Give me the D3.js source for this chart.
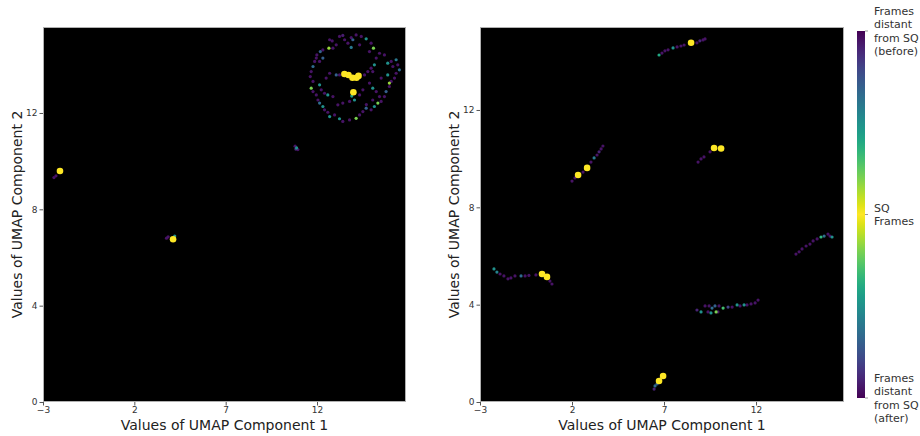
<!DOCTYPE html>
<html>
<head>
<meta charset="utf-8">
<script src="https://cdn.jsdelivr.net/npm/d3@7"></script>
<style>
  body { margin: 0; background: #fff; }
  svg { display: block; font-family: "DejaVu Sans", sans-serif; }
</style>
</head>
<body>
<div id="chart"></div>
<script>
// UMAP projection of frames, coloured by distance from SQ frames
// each point: [UMAP component 1, UMAP component 2, colour value (1 = SQ frame)]

// left panel
const leftPoints = [
  // ring cluster top right
  [12.69, 15.04, 0.05], [12.83, 14.99, 0.05], [13.23, 15.18, 0.05], [13.41, 15.22, 0.08],
  [13.51, 15.04, 0.05], [13.87, 15.13, 0.05], [13.96, 15.04, 0.3], [14.14, 15.24, 0.05],
  [14.42, 15.18, 0.05], [14.69, 15.08, 0.5], [14.96, 14.90, 0.05], [15.09, 14.69, 0.8],
  [14.87, 14.55, 0.05], [14.33, 14.83, 0.05], [13.87, 14.72, 0.4], [13.69, 14.90, 0.05],
  [13.05, 14.83, 0.05], [12.87, 14.69, 0.05], [12.65, 14.69, 0.85], [12.32, 14.62, 0.05],
  [12.18, 14.55, 0.3], [11.99, 14.41, 0.05], [11.96, 14.28, 0.05], [11.87, 14.14, 0.05],
  [11.78, 13.93, 0.35], [11.68, 13.72, 0.05], [11.63, 13.51, 0.05], [11.78, 13.31, 0.05],
  [11.68, 13.03, 0.8], [11.78, 12.89, 0.05], [11.96, 12.75, 0.05], [12.05, 12.54, 0.05],
  [12.14, 12.41, 0.35], [12.32, 12.27, 0.5], [12.41, 12.13, 0.05], [12.59, 12.03, 0.05],
  [12.69, 11.85, 0.5], [12.96, 11.92, 0.05], [13.23, 11.76, 0.5], [13.41, 11.65, 0.05],
  [13.78, 11.71, 0.05], [14.14, 11.78, 0.8], [14.33, 11.92, 0.05], [14.51, 12.06, 0.05],
  [14.69, 12.20, 0.3], [14.96, 12.13, 0.05], [15.14, 12.27, 0.5], [15.33, 12.41, 0.8],
  [15.51, 12.48, 0.05], [15.69, 12.68, 0.05], [15.78, 12.89, 0.3], [15.96, 13.10, 0.05],
  [16.06, 13.31, 0.05], [16.24, 13.45, 0.05], [16.33, 13.65, 0.05], [16.51, 13.79, 0.35],
  [16.42, 14.00, 0.05], [16.33, 14.21, 0.4], [16.06, 14.14, 0.05], [15.87, 14.07, 0.5],
  [15.69, 14.41, 0.05], [15.42, 14.48, 0.05], [15.24, 14.28, 0.05], [15.14, 14.00, 0.5],
  [14.96, 13.86, 0.05], [14.78, 13.72, 0.05], [14.60, 13.58, 0.05], [14.87, 13.24, 0.05],
  [15.05, 13.03, 0.5], [15.24, 12.89, 0.05], [14.51, 12.96, 0.05], [14.33, 12.75, 0.05],
  [14.05, 12.54, 0.5], [13.78, 12.48, 0.05], [13.41, 12.41, 0.05], [13.14, 12.34, 0.05],
  [12.87, 12.68, 0.05], [12.59, 12.75, 0.5], [12.41, 12.82, 0.05], [12.23, 12.96, 0.05],
  [12.14, 13.17, 0.5], [12.50, 13.45, 0.05], [12.69, 13.65, 0.05], [13.05, 13.58, 0.3],
  [13.23, 13.58, 0.05], [12.32, 14.28, 0.3], [12.14, 14.14, 0.05], [15.05, 13.72, 0.05],
  [15.51, 13.45, 0.05], [15.87, 13.58, 0.5], [16.15, 13.93, 0.05], [15.96, 13.24, 0.85],
  [15.42, 12.68, 0.05], [15.05, 12.54, 0.05], [13.90, 12.70, 0.55], [14.70, 12.35, 0.05],
  // SQ frames in the ring centre
  [13.50, 13.62, 1], [13.72, 13.58, 1], [13.94, 13.46, 1], [14.16, 13.46, 1],
  [14.27, 13.54, 1], [13.99, 12.86, 1],
  // small cluster near (10.9, 10.5)
  [10.80, 10.62, 0.05], [10.88, 10.55, 0.5], [10.95, 10.48, 0.05], [10.84, 10.50, 0.1],
  // cluster near (-2, 9.5)
  [-2.40, 9.32, 0.05], [-2.29, 9.39, 0.05], [-2.07, 9.59, 1],
  // cluster near (4, 6.8)
  [3.76, 6.80, 0.05], [3.85, 6.86, 0.05], [4.21, 6.89, 0.5], [4.12, 6.76, 1]
];

// right panel
const rightPoints = [
  // top arc
  [6.73, 14.26, 0.6], [6.89, 14.34, 0.05], [7.05, 14.43, 0.05], [7.22, 14.47, 0.05],
  [7.49, 14.55, 0.5], [7.71, 14.59, 0.05], [7.92, 14.63, 0.05], [8.09, 14.67, 0.05],
  [8.79, 14.76, 0.05], [8.95, 14.84, 0.1], [9.12, 14.88, 0.05], [9.23, 14.92, 0.05],
  [8.47, 14.76, 1],
  // diagonal near (3, 9.8)
  [2.00, 9.08, 0.05], [2.16, 9.21, 0.05], [2.60, 9.45, 0.05], [3.03, 9.86, 0.05],
  [3.20, 10.03, 0.4], [3.36, 10.15, 0.05], [3.47, 10.28, 0.1], [3.58, 10.40, 0.05],
  [3.68, 10.52, 0.05], [2.33, 9.33, 1], [2.82, 9.62, 1],
  // short segment near (9.5, 10.2)
  [8.85, 9.86, 0.05], [9.01, 9.99, 0.05], [9.17, 10.07, 0.05], [9.50, 10.28, 0.05],
  [9.72, 10.44, 1], [10.10, 10.42, 1],
  // left middle line
  [-2.24, 5.47, 0.5], [-2.08, 5.34, 0.45], [-1.91, 5.26, 0.05], [-1.70, 5.18, 0.05],
  [-1.48, 5.06, 0.05], [-1.32, 5.10, 0.05], [-1.10, 5.18, 0.05], [-0.77, 5.18, 0.35],
  [-0.55, 5.18, 0.05], [-0.34, 5.20, 0.05], [0.04, 5.22, 0.05], [0.80, 4.97, 0.05],
  [0.91, 4.85, 0.05], [0.37, 5.26, 1], [0.64, 5.14, 1],
  // bottom cluster
  [6.46, 0.53, 0.1], [6.51, 0.66, 0.35], [6.62, 0.74, 0.3], [6.84, 0.99, 0.1],
  [6.95, 1.07, 1], [6.73, 0.86, 1],
  // right line
  [14.17, 6.08, 0.05], [14.34, 6.17, 0.05], [14.50, 6.29, 0.05], [14.72, 6.41, 0.05],
  [14.93, 6.49, 0.05], [15.10, 6.62, 0.05], [15.32, 6.70, 0.05], [15.53, 6.78, 0.65],
  [15.70, 6.82, 0.35], [15.91, 6.90, 0.05], [16.02, 6.82, 0.05], [16.13, 6.78, 0.5],
  // lower middle line
  [8.79, 3.78, 0.1], [9.01, 3.70, 0.5], [9.23, 3.95, 0.05], [9.45, 3.95, 0.05],
  [9.61, 3.86, 0.35], [9.77, 3.95, 0.3], [9.39, 3.70, 0.05], [9.55, 3.66, 0.5],
  [9.83, 3.70, 0.8], [9.93, 3.70, 0.05], [9.99, 3.95, 0.05], [10.21, 3.86, 0.7],
  [10.48, 3.90, 0.2], [10.70, 3.90, 0.05], [10.97, 3.99, 0.5], [11.13, 3.95, 0.05],
  [11.35, 3.99, 0.5], [11.51, 3.99, 0.05], [11.73, 4.03, 0.05], [11.95, 4.07, 0.05],
  [12.11, 4.19, 0.05]
];

const xTicks = [-3, 2, 7, 12],
      yTicks = [0, 4, 8, 12];

const xTitle = "Values of UMAP Component 1",
      yTitle = "Values of UMAP Component 2";

const cbarLabels = [
  { pos: 0, lines: ["Frames", "distant", "from SQ", "(before)"] },
  { pos: 0.5, lines: ["SQ", "Frames"] },
  { pos: 1, lines: ["Frames", "distant", "from SQ", "(after)"] }
];

// layout
const W = 920, H = 436;
const panels = [
  { data: leftPoints, x0: 43, x1: 406, y0: 27, y1: 402, xDom: [-3, 16.87], yDom: [0, 15.57] },
  { data: rightPoints, x0: 480, x1: 844, y0: 27, y1: 402, xDom: [-3, 16.78], yDom: [0, 15.41] }
];

const svg = d3.select("#chart").append("svg")
    .attr("width", W)
    .attr("height", H);

const color = t => d3.interpolateViridis(t);

panels.forEach((p, i) => {
  const x = d3.scaleLinear().domain(p.xDom).range([p.x0, p.x1]);
  const y = d3.scaleLinear().domain(p.yDom).range([p.y1, p.y0]);

  const g = svg.append("g");

  g.append("rect")
    .attr("x", p.x0).attr("y", p.y0)
    .attr("width", p.x1 - p.x0).attr("height", p.y1 - p.y0)
    .attr("fill", "#000");

  // yellow (SQ) points drawn last
  const pts = p.data.slice().sort((a, b) => a[2] - b[2]);
  g.selectAll("circle")
    .data(pts)
    .join("circle")
      .attr("cx", d => x(d[0]))
      .attr("cy", d => y(d[1]))
      .attr("r", d => d[2] >= 1 ? 3.3 : 1.6)
      .attr("fill", d => color(d[2]));

  g.append("rect")
    .attr("x", p.x0 + 0.5).attr("y", p.y0 + 0.5)
    .attr("width", p.x1 - p.x0 - 1).attr("height", p.y1 - p.y0 - 1)
    .attr("fill", "none").attr("stroke", "#b0b0b0").attr("stroke-width", 1);

  const xAxis = g.append("g")
    .attr("transform", "translate(0," + p.y1 + ")")
    .call(d3.axisBottom(x).tickValues(xTicks).tickSize(3.5).tickPadding(1.5));
  const yAxis = g.append("g")
    .attr("transform", "translate(" + p.x0 + ",0)")
    .call(d3.axisLeft(y).tickValues(yTicks).tickSize(3.5).tickPadding(2));

  [xAxis, yAxis].forEach(a => {
    a.select(".domain").remove();
    a.selectAll("line").attr("stroke", "#555");
    a.selectAll("text").attr("fill", "#333").style("font-size", "9px")
      .style("font-family", "DejaVu Sans");
  });

  g.append("text")
    .attr("x", (p.x0 + p.x1) / 2)
    .attr("y", 430)
    .attr("text-anchor", "middle")
    .attr("fill", "#222")
    .style("font-size", "14px")
    .text(xTitle);

  g.append("text")
    .attr("transform", "translate(" + (p.x0 - 21) + "," + ((p.y0 + p.y1) / 2) + ") rotate(-90)")
    .attr("text-anchor", "middle")
    .attr("fill", "#222")
    .style("font-size", "14px")
    .text(yTitle);
});

// colour bar: before -> SQ -> after
const cb = { x: 857, y: 31, w: 8, h: 367 };
const defs = svg.append("defs");
const grad = defs.append("linearGradient")
    .attr("id", "cbar").attr("x1", 0).attr("y1", 0).attr("x2", 0).attr("y2", 1);
d3.range(0, 41).forEach(k => {
  const o = k / 40;
  grad.append("stop")
    .attr("offset", o)
    .attr("stop-color", color(1 - Math.abs(o - 0.5) * 2));
});

const cy = d3.scaleLinear().domain([0, 1]).range([cb.y, cb.y + cb.h]);

svg.append("rect")
  .attr("x", cb.x).attr("y", cb.y)
  .attr("width", cb.w).attr("height", cb.h)
  .attr("fill", "url(#cbar)");

const cbG = svg.append("g");
cbarLabels.forEach(l => {
  const yy = cy(l.pos);
  cbG.append("line")
    .attr("x1", cb.x + cb.w).attr("x2", cb.x + cb.w + 3)
    .attr("y1", yy).attr("y2", yy)
    .attr("stroke", "#999");
  const t = cbG.append("text")
    .attr("x", cb.x + cb.w + 9)
    .attr("fill", "#333")
    .style("font-size", "11px");
  const lh = 13.2;
  const top = yy - (l.lines.length - 1) * lh / 2 + 4;
  l.lines.forEach((s, j) => {
    t.append("tspan").attr("x", cb.x + cb.w + 9).attr("y", top + j * lh).text(s);
  });
});
</script>
</body>
</html>
